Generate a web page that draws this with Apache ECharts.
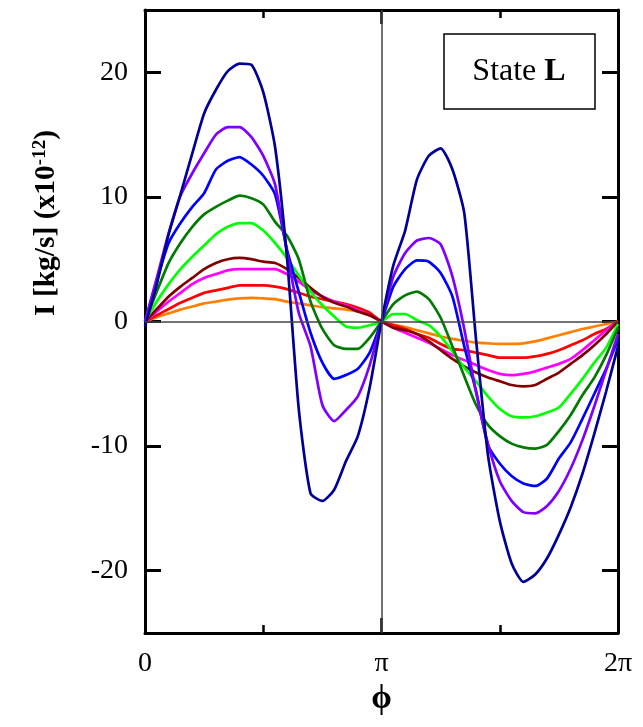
<!DOCTYPE html>
<html><head><meta charset="utf-8">
<script src="https://cdn.jsdelivr.net/npm/echarts@6/dist/echarts.min.js"></script>
<style>html,body{margin:0;padding:0;background:#fff}#c{width:643px;height:727px}</style>
</head><body><div id="c"></div>
<script>
// phase in units of pi
var phi = [0,0.05,0.1,0.15,0.2,0.25,0.3,0.35,0.4,0.45,0.5,0.55,0.6,0.65,0.7,0.75,0.8,0.85,0.9,0.95,1,
           1.05,1.1,1.15,1.2,1.25,1.3,1.35,1.4,1.45,1.5,1.55,1.6,1.65,1.7,1.75,1.8,1.85,1.9,1.95,2];
var orange  = [0,0.35,0.65,0.95,1.2,1.45,1.6,1.75,1.85,1.9,1.85,1.8,1.6,1.45,1.3,1.15,1.05,0.95,0.8,0.5,0,
               -0.25,-0.45,-0.7,-0.95,-1.2,-1.4,-1.55,-1.7,-1.75,-1.8,-1.8,-1.75,-1.6,-1.35,-1.1,-0.85,-0.6,-0.4,-0.2,0];
var red     = [0,0.5,1.0,1.5,1.9,2.3,2.5,2.7,2.9,2.9,2.9,2.8,2.6,2.3,2.0,1.8,1.6,1.4,1.1,0.7,0,
               -0.3,-0.6,-1.0,-1.3,-1.8,-2.2,-2.3,-2.5,-2.7,-2.9,-2.9,-2.9,-2.8,-2.6,-2.3,-1.9,-1.5,-1.0,-0.6,0];
var magenta = [0,0.8,1.6,2.3,3.0,3.5,3.8,4.1,4.2,4.2,4.2,4.2,3.8,3.2,2.5,2.0,1.6,1.3,0.9,0.5,0,
               -0.5,-0.9,-1.3,-1.7,-2.2,-2.7,-3.1,-3.5,-3.9,-4.2,-4.3,-4.2,-4.0,-3.7,-3.4,-3.0,-2.3,-1.5,-0.7,0];
var darkred = [0,1.0,2.0,2.8,3.5,4.2,4.7,5.0,5.1,5.0,4.8,4.7,4.2,3.5,2.7,2.0,1.5,1.2,0.8,0.5,0,
               -0.5,-0.7,-1.0,-1.6,-2.3,-3.0,-3.6,-4.1,-4.5,-4.8,-5.1,-5.2,-5.1,-4.6,-4.1,-3.4,-2.7,-1.9,-1.0,0];
var lime    = [0,1.6,3.0,4.2,5.2,6.1,7.0,7.6,7.9,7.9,7.3,6.3,5.1,3.7,2.4,1.3,0.4,-0.4,-0.5,-0.3,0,
               0.6,0.6,0.1,-0.3,-1.2,-2.4,-3.7,-4.8,-6.0,-7.0,-7.6,-7.7,-7.6,-7.3,-6.9,-5.8,-4.6,-3.3,-2.1,-0.2];
var green   = [0,2.4,4.7,6.3,7.6,8.6,9.2,9.7,10.1,9.9,9.4,8.0,6.9,5.0,1.6,-0.6,-1.9,-2.2,-2.2,-1.3,0,
               1.4,2.1,2.4,1.8,0.3,-2.0,-4.4,-6.7,-8.3,-9.2,-9.8,-10.1,-10.2,-9.9,-8.8,-7.5,-5.9,-4.5,-2.7,-0.5];
var blue    = [0,3.3,6.3,7.9,9.2,10.3,12.2,12.9,13.2,12.6,11.7,10.2,5.8,2.4,-0.9,-3.3,-4.6,-4.3,-3.8,-2.5,0,
               2.8,4.2,4.9,4.8,3.9,2.0,-2.0,-5.6,-9.9,-11.4,-12.4,-13.0,-13.2,-12.6,-11.0,-9.7,-7.8,-5.8,-3.8,-1.4];
var purple  = [0,3.5,7.1,10.1,11.9,13.5,15.0,15.6,15.6,14.8,13.3,11.0,5.6,0.7,-2.0,-6.7,-8.0,-7.1,-6.0,-3.5,0,
               3.6,5.5,6.5,6.7,6.2,3.6,-0.6,-5.7,-9.8,-12.8,-14.4,-15.3,-15.4,-14.8,-13.6,-11.8,-9.5,-6.8,-3.9,-1.0];
var navy    = [-0.4,3.0,7.0,10.2,13.5,16.7,18.6,20.1,20.7,20.6,18.4,14.0,5.2,-7.0,-13.8,-14.4,-13.5,-11.2,-9.2,-5.3,0,
               4.5,7.3,11.4,13.3,13.9,12.2,8.7,-1.5,-10.7,-16.0,-19.4,-20.9,-20.3,-19.0,-17.1,-14.9,-12.2,-9.0,-5.6,-2.0];

var seriesList = [
  {name:'orange', vals:orange, color:'#FF8000'},
  {name:'red', vals:red, color:'#FF0000'},
  {name:'magenta', vals:magenta, color:'#FF00FF'},
  {name:'darkred', vals:darkred, color:'#800000'},
  {name:'lime', vals:lime, color:'#00FF00'},
  {name:'green', vals:green, color:'#007A00'},
  {name:'blue', vals:blue, color:'#0000FF'},
  {name:'purple', vals:purple, color:'#8000FF'},
  {name:'navy', vals:navy, color:'#000099'}
];
var yTicks = [-20,-10,0,10,20];
var xLabels = {0:'0', 1:'π', 2:'2π'};

var serif = '"Liberation Serif","DejaVu Serif",serif';
var chart = echarts.init(document.getElementById('c'));
var series = [{
  type:'line', data:[], silent:true, z:1,
  markLine:{silent:true, symbol:'none', label:{show:false},
    lineStyle:{color:'#444', width:1.5, type:'solid'},
    data:[[{coord:[1,-25]},{coord:[1,25]}],[{coord:[0,0]},{coord:[2,0]}]]}
}];
seriesList.forEach(function(s){
  series.push({
    name:s.name, type:'line', symbol:'none', smooth:0.2, z:2,
    lineStyle:{color:s.color, width:2.7}, itemStyle:{color:s.color},
    data: phi.map(function(p,i){return [p, s.vals[i]];})
  });
});
var axLine = {show:true, onZero:false, lineStyle:{color:'#000', width:3}};
chart.setOption({
  animation:false,
  grid:{left:145, right:25, top:10, bottom:94},
  xAxis:[{
    type:'value', min:0, max:2, interval:1, position:'bottom',
    axisLine:axLine, splitLine:{show:false},
    axisTick:{show:true, inside:true, length:15, lineStyle:{color:'#000', width:2.5}},
    minorTick:{show:true, splitNumber:2, length:8, lineStyle:{color:'#000', width:2.5}},
    axisLabel:{margin:17, fontFamily:serif, fontSize:28, color:'#000',
      formatter:function(v){return xLabels[v]!==undefined?xLabels[v]:'';}},
    name:'ϕ', nameLocation:'middle', nameGap:48,
    nameTextStyle:{fontFamily:serif, fontSize:33, fontWeight:'bold', color:'#000'}
  },{
    type:'value', min:0, max:2, interval:1, position:'top',
    axisLine:axLine, splitLine:{show:false}, axisLabel:{show:false},
    axisTick:{show:true, inside:true, length:14, lineStyle:{color:'#000', width:2.5}},
    minorTick:{show:true, splitNumber:2, length:8, lineStyle:{color:'#000', width:2.5}}
  }],
  yAxis:[{
    type:'value', min:-25, max:25, position:'left',
    axisLine:axLine, splitLine:{show:false},
    axisTick:{show:true, inside:true, length:16, customValues:yTicks, lineStyle:{color:'#000', width:3}},
    axisLabel:{margin:17, fontFamily:serif, fontSize:28, color:'#000', customValues:yTicks}
  },{
    type:'value', min:-25, max:25, position:'right',
    axisLine:axLine, splitLine:{show:false}, axisLabel:{show:false},
    axisTick:{show:true, inside:true, length:16, customValues:yTicks, lineStyle:{color:'#000', width:3}}
  }],
  series:series,
  graphic:[{
    type:'text', x:46, y:223, rotation:Math.PI/2,
    style:{text:'{b|I [kg/s] (x10}{s|-12}{b|)}', align:'center', verticalAlign:'middle',
      rich:{b:{fontFamily:serif, fontSize:29.5, fontWeight:'bold', fill:'#000'},
            s:{fontFamily:serif, fontSize:19, fontWeight:'bold', fill:'#000', verticalAlign:'top', padding:[0,0,12,0]}}}
  },{
    type:'rect', shape:{x:444, y:34, width:151, height:75},
    style:{fill:'#fff', stroke:'#000', lineWidth:1.5}, z:10
  },{
    type:'text', x:519, y:72, z:11,
    style:{text:'{n|State }{b|L}', align:'center', verticalAlign:'middle',
      rich:{n:{fontFamily:serif, fontSize:32, fill:'#000'},
            b:{fontFamily:serif, fontSize:32, fontWeight:'bold', fill:'#000'}}}
  }]
});
</script>
</body></html>
